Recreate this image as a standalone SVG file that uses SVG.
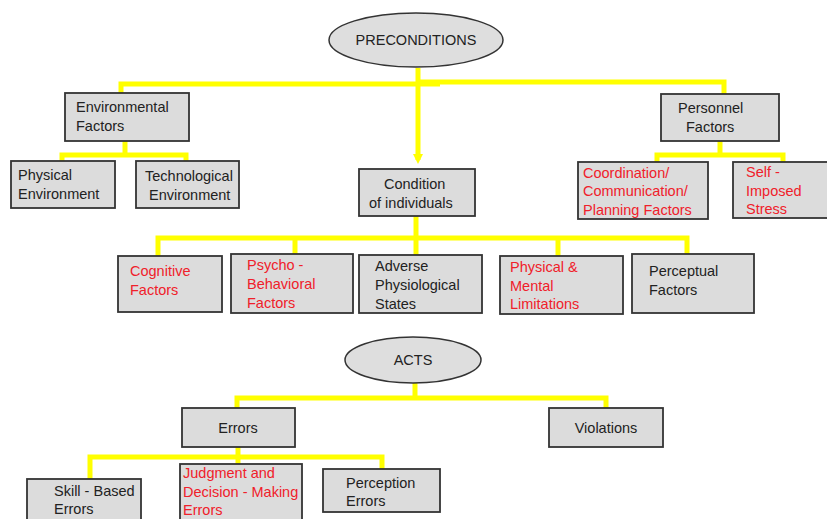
<svg xmlns="http://www.w3.org/2000/svg" width="827" height="519" viewBox="0 0 827 519">
<defs>
<marker id="arr" markerWidth="10" markerHeight="10" refX="6" refY="5" orient="auto" markerUnits="userSpaceOnUse">
<path d="M0,0 L10,5 L0,10 Z" fill="#ffff00"/>
</marker>
<style>
.box{fill:#dcdcdc;stroke:#333;stroke-width:1.8}
.ell{fill:#dedede;stroke:#333;stroke-width:1.5}
.t{font-family:"Liberation Sans",Arial,sans-serif;font-size:14.5px;fill:#222}
.r{fill:#f0202a}
.c{fill:none;stroke:#ffff00;stroke-width:5;stroke-linejoin:miter}
</style>
</defs>
<rect width="827" height="519" fill="#ffffff"/>
<g id="connectors">
<polyline class="c" points="418,68 418,84"/>
<polyline class="c" points="121,94 121,84 440,84"/>
<polyline class="c" points="418,82 724,82 724,94"/>
<line class="c" x1="418" y1="82" x2="418" y2="160" marker-end="url(#arr)"/>
<polyline class="c" points="125,141 125,155"/>
<polyline class="c" points="62,161 62,155 186,155 186,161"/>
<polyline class="c" points="720,141 720,155"/>
<polyline class="c" points="657,162 657,155 783,155 783,162"/>
<polyline class="c" points="416,216 416,255"/>
<polyline class="c" points="158,256 158,238 687,238 687,254"/>
<polyline class="c" points="295,238 295,254"/>
<polyline class="c" points="558,238 558,256"/>
<polyline class="c" points="415,383 415,398"/>
<polyline class="c" points="237,408 237,398 606,398 606,408"/>
<polyline class="c" points="238,447 238,464"/>
<polyline class="c" points="90,479 90,457 382,457 382,469"/>
</g>
<g id="preconditions">
<ellipse class="ell" cx="416" cy="40" rx="87" ry="27"/>
<text class="t" x="416" y="45" text-anchor="middle">PRECONDITIONS</text>
</g>
<g id="environmental">
<rect class="box" x="65" y="93" width="124" height="48"/>
<text class="t" x="76" y="112">Environmental</text>
<text class="t" x="76" y="131">Factors</text>
</g>
<g id="physical-env">
<rect class="box" x="11" y="161" width="104" height="47"/>
<text class="t" x="18" y="180">Physical</text>
<text class="t" x="18" y="199">Environment</text>
</g>
<g id="tech-env">
<rect class="box" x="136" y="161" width="103" height="47"/>
<text class="t" x="145" y="181">Technological</text>
<text class="t" x="149" y="200">Environment</text>
</g>
<g id="condition">
<rect class="box" x="359" y="169" width="116" height="47"/>
<text class="t" x="384" y="189">Condition</text>
<text class="t" x="369" y="208">of  individuals</text>
</g>
<g id="personnel">
<rect class="box" x="661" y="94" width="118" height="47"/>
<text class="t" x="678" y="113">Personnel</text>
<text class="t" x="686" y="132">Factors</text>
</g>
<g id="coordination">
<rect class="box" x="578" y="162" width="130" height="57"/>
<text class="t r" x="583" y="178">Coordination/</text>
<text class="t r" x="583" y="196">Communication/</text>
<text class="t r" x="583" y="215">Planning Factors</text>
</g>
<g id="self-imposed">
<rect class="box" x="733" y="162" width="100" height="56"/>
<text class="t r" x="746" y="177">Self -</text>
<text class="t r" x="746" y="196">Imposed</text>
<text class="t r" x="746" y="214">Stress</text>
</g>
<g id="cognitive">
<rect class="box" x="118" y="256" width="104" height="56"/>
<text class="t r" x="130" y="276">Cognitive</text>
<text class="t r" x="130" y="295">Factors</text>
</g>
<g id="psycho">
<rect class="box" x="231" y="254" width="122" height="59"/>
<text class="t r" x="247" y="270">Psycho -</text>
<text class="t r" x="247" y="289">Behavioral</text>
<text class="t r" x="247" y="308">Factors</text>
</g>
<g id="adverse">
<rect class="box" x="359" y="255" width="123" height="58"/>
<text class="t" x="375" y="271">Adverse</text>
<text class="t" x="375" y="290">Physiological</text>
<text class="t" x="375" y="309">States</text>
</g>
<g id="physical-mental">
<rect class="box" x="500" y="256" width="123" height="58"/>
<text class="t r" x="510" y="272">Physical &amp;</text>
<text class="t r" x="510" y="291">Mental</text>
<text class="t r" x="510" y="309">Limitations</text>
</g>
<g id="perceptual">
<rect class="box" x="632" y="254" width="122" height="59"/>
<text class="t" x="649" y="276">Perceptual</text>
<text class="t" x="649" y="295">Factors</text>
</g>
<g id="acts">
<ellipse class="ell" cx="413" cy="360" rx="68" ry="23"/>
<text class="t" x="413" y="365" text-anchor="middle">ACTS</text>
</g>
<g id="errors">
<rect class="box" x="182" y="408" width="113" height="39"/>
<text class="t" x="238" y="433" text-anchor="middle">Errors</text>
</g>
<g id="violations">
<rect class="box" x="549" y="408" width="114" height="39"/>
<text class="t" x="606" y="433" text-anchor="middle">Violations</text>
</g>
<g id="skill-based">
<rect class="box" x="27" y="479" width="114" height="50"/>
<text class="t" x="54" y="496">Skill - Based</text>
<text class="t" x="54" y="514">Errors</text>
</g>
<g id="judgment">
<rect class="box" x="180" y="464" width="122" height="65"/>
<text class="t r" x="183" y="478">Judgment and</text>
<text class="t r" x="183" y="497">Decision - Making</text>
<text class="t r" x="183" y="515">Errors</text>
</g>
<g id="perception-errors">
<rect class="box" x="323" y="469" width="117" height="43"/>
<text class="t" x="346" y="488">Perception</text>
<text class="t" x="346" y="506">Errors</text>
</g>
</svg>
